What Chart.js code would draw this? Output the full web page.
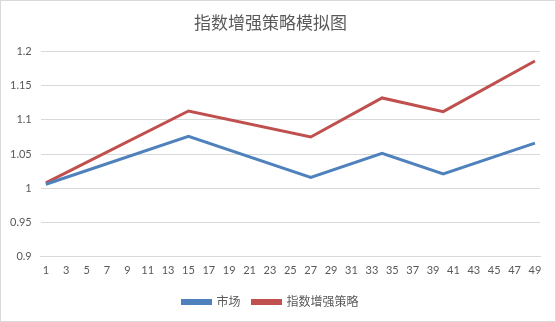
<!DOCTYPE html>
<html>
<head>
<meta charset="utf-8">
<script src="https://cdn.jsdelivr.net/npm/chart.js@4"></script>
<style>
html,body{margin:0;padding:0;background:#fff;}
#wrap{position:relative;width:556px;height:322px;box-sizing:border-box;border:1px solid #d9d9d9;}
canvas{display:block;}
</style>
</head>
<body>
<div id="wrap"><canvas id="c" width="554" height="320"></canvas></div>
<script>
const titleText = '指数增强策略模拟图';
const categories = ['1','2','3','4','5','6','7','8','9','10','11','12','13','14','15','16','17','18','19','20','21','22','23','24','25','26','27','28','29','30','31','32','33','34','35','36','37','38','39','40','41','42','43','44','45','46','47','48','49'];
const pointDays = ['1','15','27','34','40','49'];
const marketValues = [1.006, 1.076, 1.016, 1.051, 1.021, 1.066];
const strategyValues = [1.008, 1.113, 1.075, 1.132, 1.112, 1.186];
const seriesNames = ['市场', '指数增强策略'];
const yTicks = [0.9, 0.95, 1, 1.05, 1.1, 1.15, 1.2];

const FONT = "Lato, 'Noto Sans CJK SC', sans-serif";
const toPoints = vals => pointDays.map((d, i) => ({x: d, y: vals[i]}));

new Chart(document.getElementById('c'), {
  type: 'line',
  data: {
    labels: categories,
    datasets: [
      {label: seriesNames[0], data: toPoints(marketValues), borderColor: '#4F81BD', backgroundColor: '#4F81BD', borderWidth: 3, pointRadius: 0, tension: 0},
      {label: seriesNames[1], data: toPoints(strategyValues), borderColor: '#C0504D', backgroundColor: '#C0504D', borderWidth: 3, pointRadius: 0, tension: 0}
    ]
  },
  options: {
    responsive: false,
    animation: false,
    layout: {padding: {left: 0, right: 15, top: 6, bottom: 3}},
    plugins: {
      title: {display: true, text: titleText, color: '#595959', font: {family: FONT, size: 17, weight: 'normal'}, padding: {top: 6, bottom: 18}},
      legend: {position: 'bottom', labels: {color: '#595959', font: {family: FONT, size: 12}, boxWidth: 28, boxHeight: 3, padding: 12}},
      tooltip: {enabled: false}
    },
    scales: {
      x: {
        type: 'category',
        offset: true,
        grid: {display: false, drawTicks: false},
        border: {display: true, color: '#d9d9d9'},
        ticks: {
          autoSkip: false, maxRotation: 0, color: '#595959', padding: 7,
          font: {family: FONT, size: 11},
          callback: function(v, i){ return i % 2 === 0 ? categories[i] : ''; }
        }
      },
      y: {
        min: 0.9, max: 1.2,
        afterBuildTicks: axis => { axis.ticks = yTicks.map(v => ({value: v})); },
        grid: {color: '#d9d9d9', drawTicks: false},
        border: {display: false},
        ticks: {color: '#595959', padding: 9, font: {family: FONT, size: 11},
          callback: v => String(Math.round(v * 100) / 100)}
      }
    }
  }
});
</script>
</body>
</html>
